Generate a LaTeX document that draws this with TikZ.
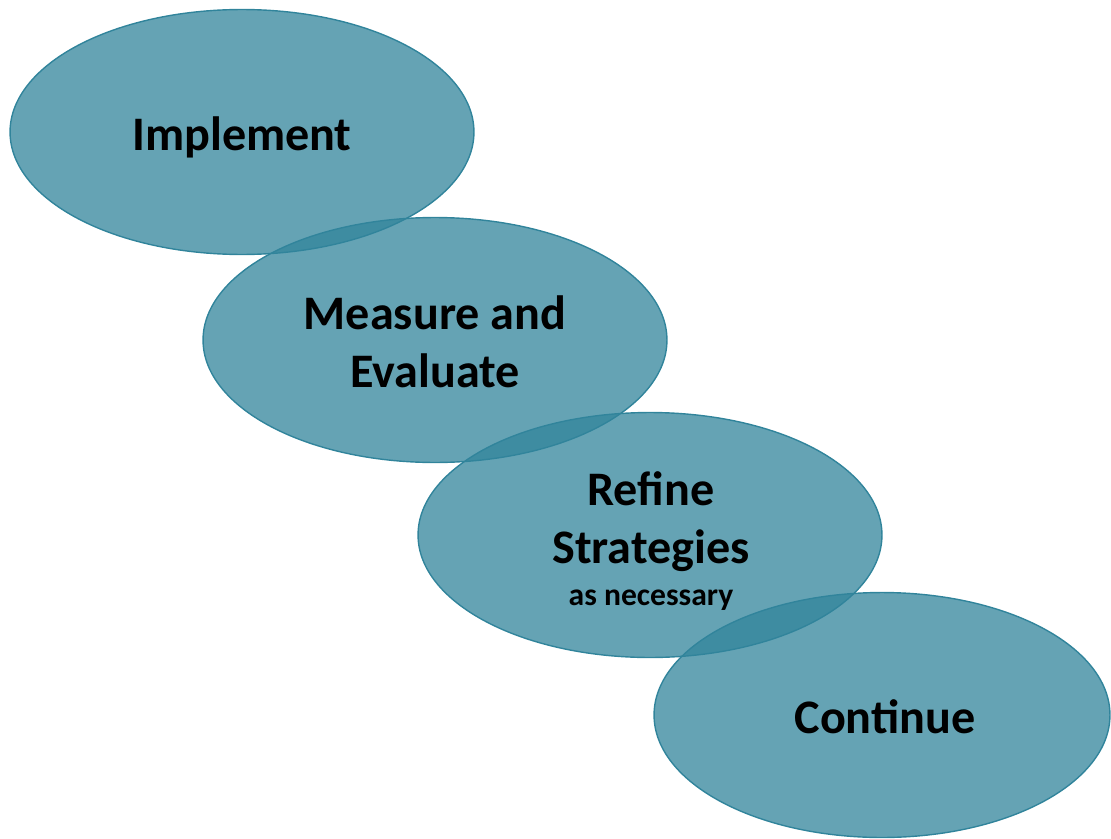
\documentclass[tikz,border=0pt]{standalone}
\usepackage{fontspec}
\setmainfont{Carlito}
\usepackage{xcolor}
\usetikzlibrary{positioning,shapes.geometric}

\definecolor{stepteal}{HTML}{31849B}

\begin{document}
\begin{tikzpicture}[x=0.02cm, y=-0.02cm,
		font=\bfseries\fontsize{27.4}{33}\selectfont,
		phase/.style={ellipse, draw=stepteal, line width=0.8pt, fill=stepteal,
		fill opacity=0.75, inner sep=0pt,
		minimum width=9.28cm, minimum height=4.9cm},
		caption/.style={align=center, inner sep=0pt, text=black}]

		\useasboundingbox (0,0) rectangle (1111,838);

		\node[phase] (implement) at (242,132) {};
		\node[phase] (measure) at (435,340) {};
		\node[phase] (refine) at (650,535) {};
		\node[phase, minimum width=9.12cm] (continue) at (882,715) {};

		\node[caption, anchor=base] (implementText) at (242,150) {Implement};
		\node[caption] (measureText) at (435,342) {Measure and\\Evaluate};
		% text of the third phase, with the small note below it
		\node[caption] (refineText) at (651,541)
		{Refine\\Strategies\\[-9pt]{\fontsize{18}{20}\selectfont as necessary}};
		\node[caption, anchor=base] (continueText) at (885,733) {Continue};
	\end{tikzpicture}
\end{document}
